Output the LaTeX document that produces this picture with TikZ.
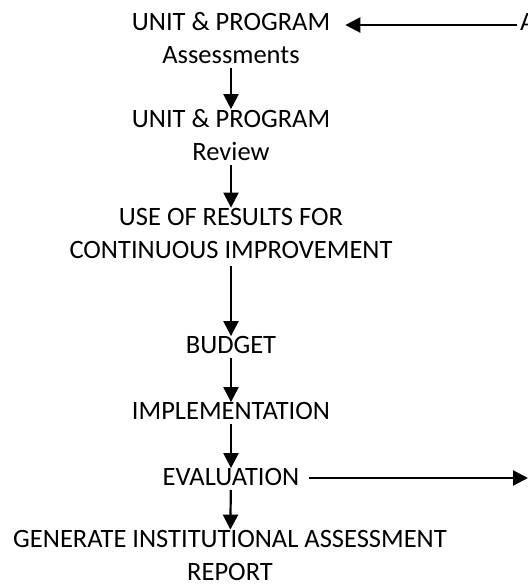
\documentclass[tikz,border=0pt]{standalone}
\usepackage{fontspec}
\setmainfont{Carlito}
\usetikzlibrary{positioning,arrows.meta}
\tikzset{
    stage/.style={align=center, inner sep=0pt, font=\fontsize{26.5}{33}\selectfont},
    flow/.style={line width=2.2pt, shorten <=4pt, -{Triangle[width=15pt,length=15pt]}}
}

\begin{document}
\begin{tikzpicture}[x=1pt,y=-1pt]
	\useasboundingbox (0,0) rectangle (528,587);
	\node[stage] (assess) at (231,38) {UNIT \& PROGRAM\\Assessments};
	\node[stage] (review) at (231,135) {UNIT \& PROGRAM\\Review};
	\node[stage] (results) at (231,233) {USE OF RESULTS FOR\\CONTINUOUS IMPROVEMENT};
	\node[stage] (budget) at (231,345) {BUDGET};
	\node[stage] (impl) at (231,411) {IMPLEMENTATION};
	\node[stage] (eval) at (231,477) {EVALUATION};
	\node[stage] (report) at (230,555) {GENERATE INSTITUTIONAL ASSESSMENT\\REPORT};
	\node[stage, anchor=west] (cutA) at (520,22) {A};
	\coordinate (evalEnd) at (528,478);
	% main chain
	\draw[flow] (assess) -- (review);
	\draw[flow] (review) -- (results);
	\draw[flow, shorten <=8pt] (results) -- (budget);
	\draw[flow] (budget) -- (impl);
	\draw[flow] (impl) -- (eval);
	\draw[flow] (eval) -- (report);
	% side arrows
	\draw[flow, shorten <=3pt, shorten >=15pt] ([yshift=-3pt]cutA.west) -- ([yshift=-3pt]cutA.west -| assess.east);
	\draw[flow, shorten <=10pt] (eval.east |- evalEnd) -- (evalEnd);
\end{tikzpicture}
\end{document}
